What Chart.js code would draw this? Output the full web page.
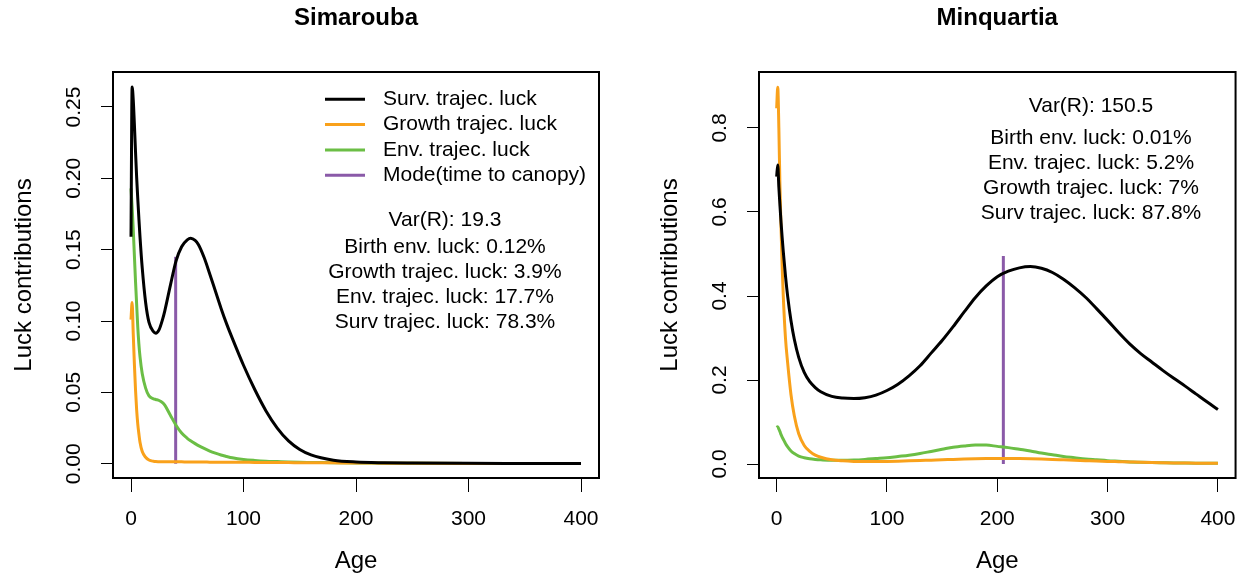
<!DOCTYPE html>
<html>
<head>
<meta charset="utf-8">
<script src="https://cdn.jsdelivr.net/npm/chart.js@4.4.1/dist/chart.umd.min.js"></script>
<style>
  html, body { margin: 0; padding: 0; background: #fff; }
  #wrap { position: relative; width: 1251px; height: 578px; }
  #c1 { position: absolute; left: 0; top: 0; }
  #c2 { position: absolute; left: 646px; top: 0; }
</style>
</head>
<body>
<div id="wrap">
  <canvas id="c1" width="646" height="578"></canvas>
  <canvas id="c2" width="605" height="578"></canvas>
</div>
<script>
// series names and x ticks shared by both panels
var seriesLabels = ['Surv. trajec. luck', 'Growth trajec. luck', 'Env. trajec. luck', 'Mode(time to canopy)'];
var xTickValues = [0, 100, 200, 300, 400];

// Simarouba (left)
var simAge = [0, 1, 2, 3, 4, 5, 6, 7, 8, 10, 13, 16, 20, 22, 25, 28, 30, 35, 40, 45, 50, 53, 57, 60, 65, 70,
  75, 80, 85, 90, 100, 110, 120, 130, 140, 150, 160, 180, 200, 225, 250, 300, 350, 400];
var simSurv = [0.159, 0.264, 0.255, 0.238, 0.219, 0.201, 0.186, 0.172, 0.159, 0.137, 0.113, 0.099, 0.0925, 0.0915,
  0.094, 0.101, 0.107, 0.125, 0.142, 0.152, 0.1568, 0.158, 0.1565, 0.1535, 0.1445, 0.133,
  0.121, 0.109, 0.098, 0.088, 0.069, 0.052, 0.037, 0.025, 0.016, 0.010, 0.0062, 0.0025, 0.0012, 0.0007, 0.0005, 0.0003, 0.0002, 0.0001];
var simGrowth = [0.101, 0.113, 0.091, 0.070, 0.052, 0.038, 0.028, 0.021, 0.015, 0.0085, 0.0045, 0.0026, 0.0017, 0.0015,
  0.0014, 0.0013, 0.0013, 0.0013, 0.0013, 0.0013, 0.0012, 0.0012, 0.0012, 0.0012, 0.0012, 0.0011,
  0.0011, 0.0011, 0.0010, 0.0010, 0.0010, 0.0009, 0.0009, 0.0008, 0.0008, 0.0007, 0.0007, 0.0006, 0.0005, 0.0004, 0.0003, 0.0002, 0.0002, 0.0001];
var simEnv = [0.193, 0.180, 0.164, 0.146, 0.128, 0.112, 0.096, 0.084, 0.075, 0.063, 0.053, 0.0475, 0.0455, 0.045,
  0.0443, 0.0428, 0.041, 0.034, 0.027, 0.0215, 0.0178, 0.0161, 0.0141, 0.0127, 0.0107, 0.0089,
  0.0074, 0.0061, 0.0051, 0.0042, 0.003, 0.0023, 0.0018, 0.0015, 0.0012, 0.001, 0.0009, 0.0007, 0.0005, 0.0004, 0.0003, 0.0002, 0.0002, 0.0001];
var simMode = 39.7;
var simModeTop = 0.145;
var simYTicks = [0, 0.05, 0.10, 0.15, 0.20, 0.25];
var simYLabels = ['0.00', '0.05', '0.10', '0.15', '0.20', '0.25'];
var simNotes = ['Var(R): 19.3', 'Birth env. luck: 0.12%', 'Growth trajec. luck: 3.9%', 'Env. trajec. luck: 17.7%', 'Surv trajec. luck: 78.3%'];

// Minquartia (right)
var minAge = [0, 1, 2, 3, 4, 5, 6, 8, 10, 13, 16, 20, 25, 30, 35, 40,
  50, 60, 70, 80, 90, 100, 110, 120, 130, 140, 150, 160, 170, 180, 190, 200, 210, 220, 230, 240, 250, 260, 270, 280, 290, 300,
  310, 320, 330, 340, 350, 360, 370, 380, 390, 400];
var minSurv = [0.684, 0.712, 0.659, 0.615, 0.575, 0.539, 0.506, 0.448, 0.399, 0.341, 0.297, 0.254, 0.218, 0.196, 0.182, 0.172,
  0.161, 0.157, 0.156, 0.158, 0.164, 0.175, 0.190, 0.210, 0.234, 0.264, 0.294, 0.327, 0.362, 0.396, 0.424, 0.446, 0.459, 0.467, 0.470, 0.466, 0.456, 0.440, 0.420, 0.397, 0.370, 0.342,
  0.313, 0.286, 0.263, 0.243, 0.223, 0.204, 0.186, 0.167, 0.148, 0.130];
var minGrowth = [0.847, 0.897, 0.800, 0.660, 0.560, 0.470, 0.400, 0.300, 0.240, 0.165, 0.115, 0.072, 0.044, 0.030, 0.021, 0.016,
  0.010, 0.0075, 0.0062, 0.0058, 0.0058, 0.0062, 0.0068, 0.0075, 0.0083, 0.0092, 0.010, 0.011, 0.0118, 0.0125, 0.013, 0.0133, 0.0133, 0.013, 0.0125, 0.0118, 0.011, 0.010, 0.009, 0.008, 0.007, 0.0062,
  0.0055, 0.0048, 0.0041, 0.0035, 0.003, 0.0026, 0.0023, 0.002, 0.0018, 0.0016];
var minEnv = [0.087, 0.089, 0.083, 0.077, 0.070, 0.064, 0.059, 0.049, 0.041, 0.031, 0.025, 0.019, 0.015, 0.0125, 0.011, 0.010,
  0.0088, 0.0088, 0.0095, 0.011, 0.013, 0.015, 0.018, 0.021, 0.025, 0.030, 0.035, 0.040, 0.043, 0.045, 0.045, 0.042, 0.039, 0.035, 0.031, 0.026, 0.022, 0.018, 0.015, 0.012, 0.010, 0.008,
  0.0065, 0.005, 0.0042, 0.0035, 0.003, 0.0025, 0.0022, 0.002, 0.0019, 0.0018];
var minMode = 205.5;
var minModeTop = 0.495;
var minYTicks = [0, 0.2, 0.4, 0.6, 0.8];
var minYLabels = ['0.0', '0.2', '0.4', '0.6', '0.8'];
var minNotes = ['Var(R): 150.5', 'Birth env. luck: 0.01%', 'Env. trajec. luck: 5.2%', 'Growth trajec. luck: 7%', 'Surv trajec. luck: 87.8%'];

var colors = ['#000000', '#F9A11B', '#6BBE45', '#8A5AA8'];
var FONT = '"Liberation Sans", Arial, Helvetica, sans-serif';

Chart.defaults.font.family = FONT;
Chart.defaults.color = '#000';

function pts(ages, vals) {
  return ages.map(function (a, i) { return { x: a, y: vals[i] }; });
}

// R-style box round the plot region
var boxPlugin = {
  id: 'box',
  afterDraw: function (chart) {
    var a = chart.chartArea, ctx = chart.ctx;
    ctx.save();
    ctx.strokeStyle = '#000';
    ctx.lineWidth = 2;
    ctx.strokeRect(a.left, a.top, a.right - a.left, a.bottom - a.top);
    ctx.restore();
  }
};

// legend (left panel only) and the Var(R) text block
var notesPlugin = {
  id: 'notes',
  afterDraw: function (chart, args, opts) {
    var ctx = chart.ctx;
    ctx.save();
    ctx.font = '21px ' + FONT;
    ctx.fillStyle = '#000';
    ctx.textBaseline = 'middle';
    ctx.textAlign = 'center';
    opts.lines.forEach(function (t, i) { ctx.fillText(t, opts.x, opts.y[i]); });
    if (opts.legend) {
      ctx.textAlign = 'left';
      chart.data.datasets.forEach(function (ds, i) {
        var y = 99.3 + i * 25.3;
        ctx.strokeStyle = ds.borderColor;
        ctx.lineWidth = 3;
        ctx.beginPath();
        ctx.moveTo(325, y);
        ctx.lineTo(365, y);
        ctx.stroke();
        ctx.fillText(ds.label, 383, y);
      });
    }
    ctx.restore();
  }
};

function makePanel(id, p) {
  var curve = function (label, data, color) {
    return { label: label, data: data, borderColor: color, borderWidth: 3, pointRadius: 0,
             cubicInterpolationMode: 'monotone', fill: false };
  };
  return new Chart(document.getElementById(id), {
    type: 'line',
    data: {
      datasets: [
        curve(seriesLabels[0], pts(p.age, p.surv), colors[0]),
        curve(seriesLabels[1], pts(p.age, p.growth), colors[1]),
        curve(seriesLabels[2], pts(p.age, p.env), colors[2]),
        { label: seriesLabels[3], data: [{ x: p.mode, y: 0 }, { x: p.mode, y: p.modeTop }],
          borderColor: colors[3], borderWidth: 3, pointRadius: 0, tension: 0 }
      ]
    },
    options: {
      responsive: false,
      animation: false,
      layout: { padding: { left: 0, right: p.padRight, top: 0, bottom: 0 } },
      plugins: {
        legend: { display: false },
        tooltip: { enabled: false },
        title: { display: true, text: p.title, fullSize: false, color: '#000',
                 font: { size: 24, weight: 'bold' }, padding: { top: 4, bottom: 39.2 } },
        notes: { lines: p.notes, x: 445, y: p.noteY, legend: p.legend }
      },
      scales: {
        x: {
          type: 'linear', min: -16, max: 416,
          afterBuildTicks: function (s) { s.ticks = xTickValues.map(function (v) { return { value: v }; }); },
          afterFit: function (s) { s.height = 100; },
          grid: { drawOnChartArea: false, drawTicks: true, tickLength: 14, color: '#000', lineWidth: 1 },
          border: { display: false },
          ticks: { font: { size: 21 }, color: '#000', padding: 15, maxRotation: 0, autoSkip: false },
          title: { display: true, text: 'Age', font: { size: 24 }, color: '#000', padding: { top: 0, bottom: 2 } }
        },
        y: {
          type: 'linear', min: p.yMin, max: p.yMax,
          afterBuildTicks: function (s) { s.ticks = p.yTicks.map(function (v) { return { value: v }; }); },
          afterFit: function (s) { s.width = 113; },
          grid: { drawOnChartArea: false, drawTicks: true, tickLength: 12, color: '#000', lineWidth: 1 },
          border: { display: false },
          ticks: { font: { size: 21 }, color: '#000', minRotation: 90, maxRotation: 90, crossAlign: 'center',
                   padding: p.yPad, autoSkip: false,
                   callback: function (v, i) { return p.yLabels[i]; } },
          title: { display: true, text: 'Luck contributions', font: { size: 24 }, color: '#000', padding: { top: 9.6, bottom: 0 } }
        }
      }
    },
    plugins: [boxPlugin, notesPlugin]
  });
}

makePanel('c1', {
  title: 'Simarouba', age: simAge, surv: simSurv, growth: simGrowth, env: simEnv,
  mode: simMode, modeTop: simModeTop, yMin: -0.0100, yMax: 0.2745, yTicks: simYTicks, yLabels: simYLabels,
  yPad: 6.6, padRight: 47, notes: simNotes, noteY: [220, 247.5, 272.5, 297.5, 322.5], legend: true
});

makePanel('c2', {
  title: 'Minquartia', age: minAge, surv: minSurv, growth: minGrowth, env: minEnv,
  mode: minMode, modeTop: minModeTop, yMin: -0.0333, yMax: 0.9333, yTicks: minYTicks, yLabels: minYLabels,
  yPad: 12.4, padRight: 6, notes: minNotes, noteY: [106, 138.3, 163.3, 188.3, 213.3], legend: false
});
</script>
</body>
</html>
